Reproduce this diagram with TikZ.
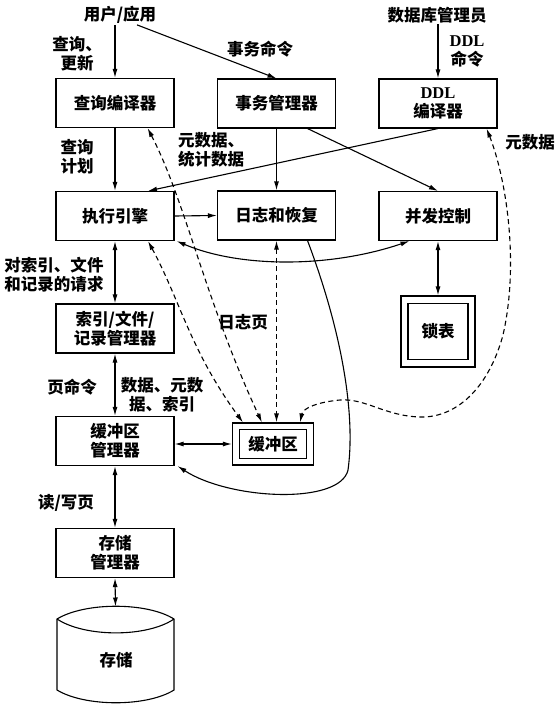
\documentclass[tikz,border=0pt]{standalone}
\usepackage{fontspec}
\usepackage{tikz}
\usetikzlibrary{arrows.meta}
\newfontfamily\cjk{Noto Sans CJK SC}
\newfontfamily\latin{Liberation Serif}

\tikzset{
  box/.style={draw, line width=1.1pt, minimum width=118pt, minimum height=49pt,
              align=center, inner sep=1pt},
  frame/.style={draw, line width=1.1pt, inner sep=0pt},
  lbl/.style={align=center, inner sep=1pt},
  arr/.style={-{Latex[length=9pt,width=5pt]}, line width=1.1pt},
  biarr/.style={{Latex[length=9pt,width=5pt]}-{Latex[length=9pt,width=5pt]}, line width=1.1pt},
  dashline/.style={dash pattern=on 5pt off 3.5pt},
}

\begin{document}
\begin{tikzpicture}[x=1pt, y=-1pt, font=\cjk\bfseries\fontsize{16.5}{19}\selectfont]
      \useasboundingbox (0,0) rectangle (557,712);
      % Sources at the top
      \node[lbl] (user) at (120,15) {用户/应用};
      \node[lbl] (dba) at (437,15) {数据库管理员};
      % Row 1
      \node[box] (qc) at (115,103) {查询编译器};
      \node[box] (tm) at (276.5,103.5) {事务管理器};
      \node[box] (ddl) at (438,103.5) {{\latin\bfseries DDL}\\编译器};
      % Row 2
      \node[box] (ee) at (115,216) {执行引擎};
      \node[box] (lr) at (276.5,215.5) {日志和恢复};
      \node[box] (cc) at (438,216) {并发控制};
      % Lock table and buffers: outer and inner frame
      \node[frame, minimum width=74pt, minimum height=71pt] (lt) at (438,331.5) {};
      \node[frame, minimum width=60pt, minimum height=56pt] (lti) at (lt) {锁表};
      \node[frame, minimum width=81pt, minimum height=42pt] (buf) at (273,444) {};
      \node[frame, minimum width=67pt, minimum height=29pt] (bufi) at (buf) {缓冲区};
      % Left column
      \node[box] (ifr) at (115,328.5) {索引/文件/\\记录管理器};
      \node[box] (bm) at (115,441) {缓冲区\\管理器};
      \node[box] (sm) at (115,553) {存储\\管理器};
      % Storage cylinder
      \draw[line width=1.1pt] (57,619) .. controls (85,602) and (147,602) .. (174,619)
            -- (174,690) .. controls (147,707) and (85,707) .. (57,690) -- cycle;
      \draw[line width=1.1pt] (57,619) .. controls (85,637.5) and (147,637.5) .. (174,619);
      \coordinate (sttop) at (115.5,606.5);
      \node[lbl] (st) at (116,660) {存储};

      % Labels
      \node[lbl] (l1) at (77,54) {查询、\\更新};
      \node[lbl] (l2) at (260,49) {事务命令};
      \node[lbl] (l3) at (467,51) {{\latin\bfseries DDL}\\命令};
      \node[lbl] (l4) at (77,157) {查询\\计划};
      \node[lbl, align=left] (l5) at (211,150) {元数据、\\统计数据};
      \node[lbl] (l6) at (530,142) {元数据};
      \node[lbl] (l7) at (54,275) {对索引、文件\\和记录的请求};
      \node[lbl] (l8) at (243,322) {日志页};
      \node[lbl] (l9) at (72,387) {页命令};
      \node[lbl] (l10) at (162,395) {数据、元数\\据、索引};
      \node[lbl] (l11) at (66,503) {读/写页};

      % Solid arrows
      \draw[arr] (user.south -| qc.north) -- (qc.north);
      \draw[arr] ([xshift=17pt]user.south) -- (tm.north);
      \draw[arr] (dba.south -| ddl.north) -- (ddl.north);
      \draw[arr] (qc.south) -- (ee.north);
      \draw[arr] (tm.south) -- (lr.north);
      \draw[arr] ([xshift=31pt]tm.south) -- (cc.north);
      \draw[arr] (ddl.south) -- ([xshift=33pt]ee.north);
      \draw[arr] (ee.east) -- (lr.west);
      \draw[biarr] ([xshift=2pt]ee.south east) .. controls (240,268) and (330,268)
            .. ([xshift=31pt]cc.south west);
      \draw[biarr] (cc.south) -- (lt.north);
      \foreach \a/\b in {ee/ifr, ifr/bm, bm/sm} {
        \draw[biarr] (\a.south) -- (\b.north);
      }
      \draw[biarr] (sm.south) -- (sttop);
      \draw[biarr] (buf.west -| bm.east) -- (buf.west);
      \draw[arr] ([xshift=31pt]lr.south) .. controls (345,340) and (355,420) .. (348,470)
            .. controls (340,505) and (230,500) .. ([xshift=3pt]bm.south east);

      % Dashed arrows to the buffers
      \draw[biarr, dashline] ([xshift=-27pt]qc.south east) .. controls (185,200) and (205,300)
            .. ([xshift=30pt]buf.north west);
      \draw[biarr, dashline] ([xshift=33pt]ee.south) .. controls (180,300) and (190,350)
            .. ([xshift=11pt]buf.north west);
      \draw[biarr, dashline] (lr.south) -- (lr.south |- buf.north);
      \draw[biarr, dashline] ([xshift=-11pt]ddl.south east) .. controls (505,175) and (520,260)
            .. (503,335) .. controls (488,390) and (455,418) .. (420,417)
            .. controls (385,416) and (365,398) .. (340,400)
            .. controls (318,402) and (303,408) .. ([xshift=-14pt]buf.north east);
\end{tikzpicture}
\end{document}
